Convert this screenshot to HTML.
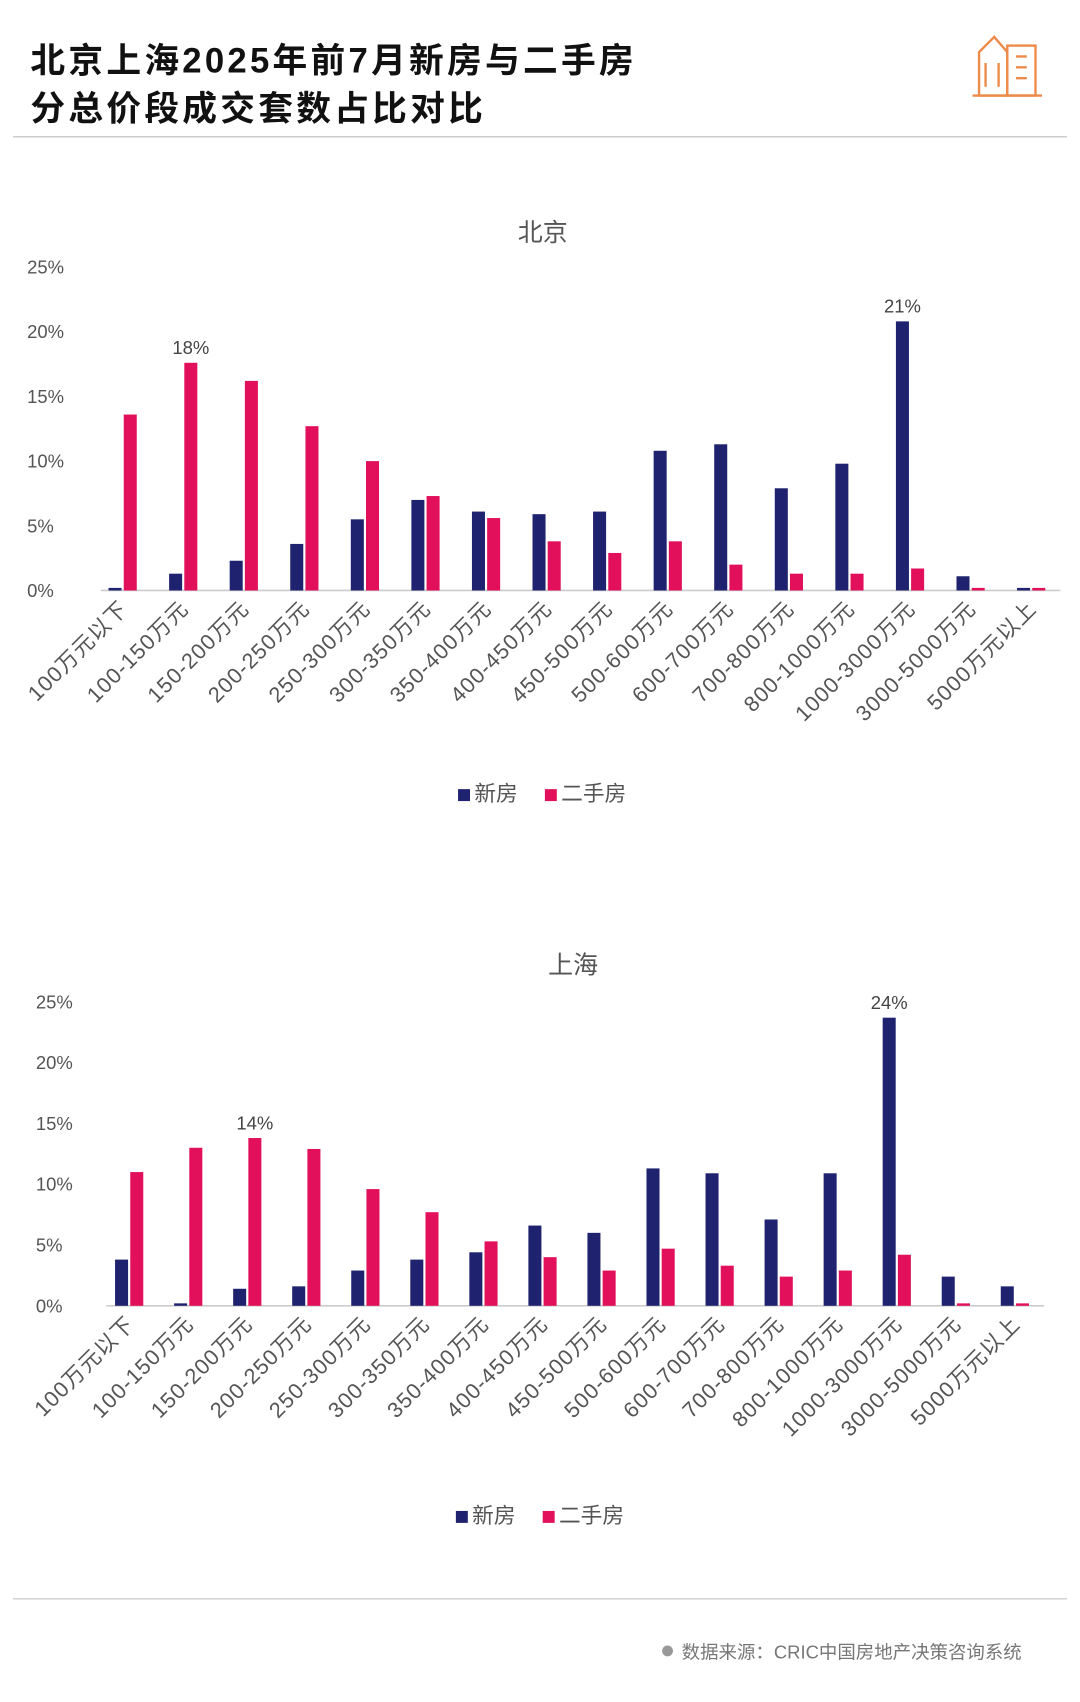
<!DOCTYPE html>
<html><head><meta charset="utf-8"><style>
html,body{margin:0;padding:0;background:#fff;}
svg{display:block;}
text{font-family:"Liberation Sans","Noto Sans CJK SC",sans-serif;}
</style></head><body>
<svg id="s" width="1080" height="1702" viewBox="0 0 995 1568" xmlns="http://www.w3.org/2000/svg">
<rect width="995" height="1568" fill="#fff"/>
<text x="28" y="67" font-size="32" font-weight="bold" fill="#111" letter-spacing="3">北京上海2025年前7月新房与二手房</text>
<text x="28" y="111" font-size="32" font-weight="bold" fill="#111" letter-spacing="3">分总价段成交套数占比对比</text>
<line x1="12" y1="126" x2="983" y2="126" stroke="#bbb" stroke-width="1"/>
<g fill="none" stroke="#ec8b4a" stroke-width="2.2">
<path d="M902 88 V48 L916 34 L928 48 V88 Z"/><rect x="928" y="42" width="26" height="46"/>
<line x1="896" y1="88" x2="960" y2="88"/>
<line x1="908" y1="58" x2="908" y2="80"/><line x1="920" y1="58" x2="920" y2="80"/>
<line x1="936" y1="52" x2="946" y2="52"/><line x1="936" y1="62" x2="946" y2="62"/><line x1="936" y1="72" x2="946" y2="72"/>
</g>
<line x1="12" y1="1473" x2="983" y2="1473" stroke="#bbb" stroke-width="1"/>
<circle cx="615" cy="1521" r="5" fill="#999"/>
<text x="628" y="1528" font-size="17" fill="#777">数据来源：CRIC中国房地产决策咨询系统</text>
<g id="g"></g>
</svg>
<script>
const cats=["100万元以下","100-150万元","150-200万元","200-250万元","250-300万元","300-350万元","350-400万元","400-450万元","450-500万元","500-600万元","600-700万元","700-800万元","800-1000万元","1000-3000万元","3000-5000万元","5000万元以上"];
const bj=[[0.2,13.6],[1.3,17.6],[2.3,16.2],[3.6,12.7],[5.5,10.0],[7.0,7.3],[6.1,5.6],[5.9,3.8],[6.1,2.9],[10.8,3.8],[11.3,2.0],[7.9,1.3],[9.8,1.3],[20.8,1.7],[1.1,0.2],[0.2,0.2]];
const sh=[[3.8,11.0],[0.2,13.0],[1.4,13.8],[1.6,12.9],[2.9,9.6],[3.8,7.7],[4.4,5.3],[6.6,4.0],[6.0,2.9],[11.3,4.7],[10.9,3.3],[7.1,2.4],[10.9,2.9],[23.7,4.2],[2.4,0.2],[1.6,0.2]];
let h='';
function chart(title,ty,y0,y25,x0,step,data,ax0,lblx,legy,legx,labs){
 const u=(y0-y25)/25;
 h+=`<text x="${ty[0]}" y="${ty[1]}" font-size="23" fill="#555" text-anchor="middle">${title}</text>`;
 for(let i=0;i<=5;i++){const y=y0-i*5*u;h+=`<text x="${lblx}" y="${y+6}" font-size="17" fill="#555">${i*5}%</text>`;}
 h+=`<line x1="${ax0}" y1="${y0}" x2="${x0+15*step+40}" y2="${y0}" stroke="#ccc" stroke-width="1.5"/>`;
 data.forEach((d,i)=>{const bx=x0+i*step;
  h+=`<rect x="${bx}" y="${y0-d[0]*u}" width="12" height="${d[0]*u}" fill="#1f226e"/>`;
  h+=`<rect x="${bx+14}" y="${y0-d[1]*u}" width="12" height="${d[1]*u}" fill="#e2105a"/>`;
  const cx=bx+13;
  h+=`<text transform="translate(${cx+6},${y0+18}) rotate(-45)" font-size="20" letter-spacing="1" fill="#555" text-anchor="end">${cats[i]}</text>`;
 });
 labs.forEach(l=>{h+=`<text x="${x0+l[0]*step+l[1]}" y="${y0-l[2]*u-8}" font-size="17" fill="#444" text-anchor="middle">${l[3]}</text>`;});
 h+=`<rect x="${legx}" y="${legy-11}" width="11" height="11" fill="#1f226e"/><text x="${legx+15}" y="${legy}" font-size="20" fill="#555">新房</text>`;
 h+=`<rect x="${legx+80}" y="${legy-11}" width="11" height="11" fill="#e2105a"/><text x="${legx+95}" y="${legy}" font-size="20" fill="#555">二手房</text>`;
}
chart("北京",[500,222],544,246,100,55.8,bj,93,25,738,422,[[1,20,17.6,"18%"],[13,6,20.8,"21%"]]);
chart("上海",[528,897],1203,923,106,54.4,sh,98,33,1403,420,[[2,20,13.8,"14%"],[13,6,23.7,"24%"]]);
document.getElementById('g').innerHTML=h;
</script>
</body></html>
